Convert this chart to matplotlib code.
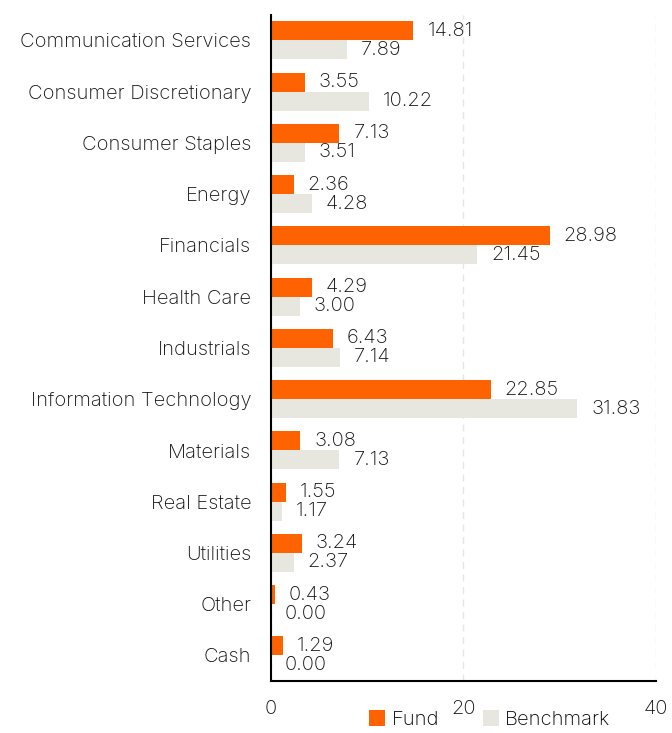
import matplotlib
matplotlib.use("Agg")
import matplotlib.pyplot as plt
import numpy as np

sectors = [
    "Communication Services", "Consumer Discretionary", "Consumer Staples",
    "Energy", "Financials", "Health Care", "Industrials",
    "Information Technology", "Materials", "Real Estate", "Utilities",
    "Other", "Cash",
]
fund = [14.81, 3.55, 7.13, 2.36, 28.98, 4.29, 6.43, 22.85, 3.08, 1.55, 3.24, 0.43, 1.29]
benchmark = [7.89, 10.22, 3.51, 4.28, 21.45, 3.00, 7.14, 31.83, 7.13, 1.17, 2.37, 0.00, 0.00]

fund_color = "#ff6200"
bench_color = "#e7e7e0"
text_color = "#111111"

plt.rcParams["font.family"] = ["Inter", "DejaVu Sans"]
plt.rcParams["font.weight"] = "light"

fig = plt.figure(figsize=(6.72, 7.33), dpi=100)
ax = fig.add_axes([0.403, 0.071, 0.573, 0.909])

y = np.arange(len(sectors))
h = 0.37

ax.barh(y - h / 2, fund, height=h, color=fund_color, label="Fund", zorder=3)
ax.barh(y + h / 2, benchmark, height=h, color=bench_color, label="Benchmark", zorder=3)

for yi, f, b in zip(y, fund, benchmark):
    ax.annotate(f"{f:.2f}", (f, yi - h / 2), xytext=(10, 0), textcoords="offset points",
                va="center", ha="left", fontsize=14.5, color=text_color)
    ax.annotate(f"{b:.2f}", (b, yi + h / 2), xytext=(10, 0), textcoords="offset points",
                va="center", ha="left", fontsize=14.5, color=text_color)

ax.set_yticks(y)
ax.set_yticklabels(sectors, fontsize=14.5, color=text_color)
ax.set_ylim(len(sectors) - 0.5, -0.5)
ax.set_xlim(0, 40)
ax.set_xticks([0, 20, 40])
ax.tick_params(axis="x", length=0, labelsize=14.5, pad=14, colors=text_color)
ax.tick_params(axis="y", length=0, pad=14)

ax.grid(axis="x", color="#e6e6e6", linestyle=(0, (5, 4)), linewidth=1, zorder=0)
for s in ["top", "right"]:
    ax.spines[s].set_visible(False)
ax.spines["left"].set_linewidth(1.5)
ax.spines["bottom"].set_linewidth(1.5)
ax.spines["left"].set_zorder(4)

ax.legend(loc="center", bbox_to_anchor=(0.569, -0.058), ncol=2, frameon=False,
          fontsize=14.5, handlelength=0.8, handleheight=0.8, handletextpad=0.3,
          columnspacing=2.2, borderpad=0)

fig.savefig("out.png", dpi=100)
